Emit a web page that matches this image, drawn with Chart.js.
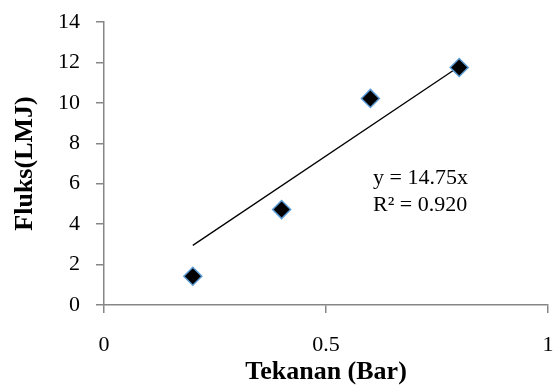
<!DOCTYPE html>
<html>
<head>
<meta charset="utf-8">
<script src="https://cdn.jsdelivr.net/npm/chart.js@4/dist/chart.umd.min.js"></script>
<style>
  html, body { margin: 0; padding: 0; background: #ffffff; }
  #wrap { width: 553px; height: 385px; position: relative; }
</style>
</head>
<body>
<div id="wrap"><canvas id="c" width="553" height="385"></canvas></div>
<script>
// ---- data ----
const pressureBar = [0.2, 0.4, 0.6, 0.8];
const fluxLMJ = [1.42, 4.72, 10.22, 11.75];
const trendX = [0.2, 0.8];
const trendY = [2.95, 11.8];
const xTickValues = [0, 0.5, 1];
const trendEquation = "y = 14.75x";
const trendR2 = "R² = 0.920";
const xTitle = "Tekanan (Bar)";
const yTitle = "Fluks(LMJ)";

const FONT = "'Liberation Serif', 'Times New Roman', serif";
const AXIS_COLOR = '#868686';

const scatterPoints = pressureBar.map((x, i) => ({ x: x, y: fluxLMJ[i] }));
const trendPoints = trendX.map((x, i) => ({ x: x, y: trendY[i] }));

const annotationPlugin = {
  id: 'trendLabel',
  afterDatasetsDraw(chart) {
    const ctx = chart.ctx;
    const xs = chart.scales.x, ys = chart.scales.y;
    const px = xs.getPixelForValue(0.606);
    const py = ys.getPixelForValue(6.27);
    ctx.save();
    ctx.fillStyle = '#000000';
    ctx.font = "22px " + FONT;
    ctx.textAlign = 'left';
    ctx.textBaseline = 'middle';
    ctx.fillText(trendEquation, px, py);
    ctx.fillText(trendR2, px, py + 27);
    ctx.restore();
  }
};

new Chart(document.getElementById('c'), {
  type: 'scatter',
  data: {
    datasets: [
      {
        label: 'Fluks',
        data: scatterPoints,
        pointStyle: 'rectRot',
        pointRadius: 9,
        pointHoverRadius: 9,
        backgroundColor: '#000000',
        borderColor: '#5b9bd5',
        borderWidth: 1.5,
        showLine: false,
        order: 0
      },
      {
        label: 'Trend',
        data: trendPoints,
        showLine: true,
        borderColor: '#000000',
        borderWidth: 1.3,
        pointRadius: 0,
        fill: false,
        order: 1
      }
    ]
  },
  options: {
    responsive: false,
    animation: false,
    devicePixelRatio: 1,
    layout: { autoPadding: false, padding: { left: 0, right: 5, top: 22, bottom: 0 } },
    plugins: { legend: { display: false }, tooltip: { enabled: false } },
    scales: {
      x: {
        type: 'linear',
        min: 0, max: 1,
        afterBuildTicks(scale) { scale.ticks = xTickValues.map(v => ({ value: v })); },
        afterFit(scale) { scale.height = 80; scale.paddingLeft = 0; scale.paddingRight = 0; },
        border: { display: true, color: AXIS_COLOR, width: 1.5 },
        grid: { display: true, drawOnChartArea: false, drawTicks: true, tickLength: 8, color: AXIS_COLOR, lineWidth: 1.5 },
        ticks: {
          color: '#000000', font: { family: FONT, size: 22 }, padding: 19,
          maxRotation: 0, autoSkip: false,
          callback: (v) => String(v)
        },
        title: {
          display: true, text: xTitle, color: '#000000',
          font: { family: FONT, size: 26, weight: 'bold', lineHeight: 1 },
          padding: { top: 0, bottom: 0 }
        }
      },
      y: {
        type: 'linear',
        min: 0, max: 14,
        afterFit(scale) { scale.width = 104; scale.paddingTop = 0; scale.paddingBottom = 0; },
        border: { display: true, color: AXIS_COLOR, width: 1.5 },
        grid: { display: true, drawOnChartArea: false, drawTicks: true, tickLength: 8, color: AXIS_COLOR, lineWidth: 1.5 },
        ticks: {
          stepSize: 2, color: '#000000', font: { family: FONT, size: 22 }, padding: 16
        },
        title: {
          display: true, text: yTitle, color: '#000000',
          font: { family: FONT, size: 26, weight: 'bold', lineHeight: 1 },
          padding: { top: 12, bottom: 0 }
        }
      }
    }
  },
  plugins: [annotationPlugin]
});
</script>
</body>
</html>
